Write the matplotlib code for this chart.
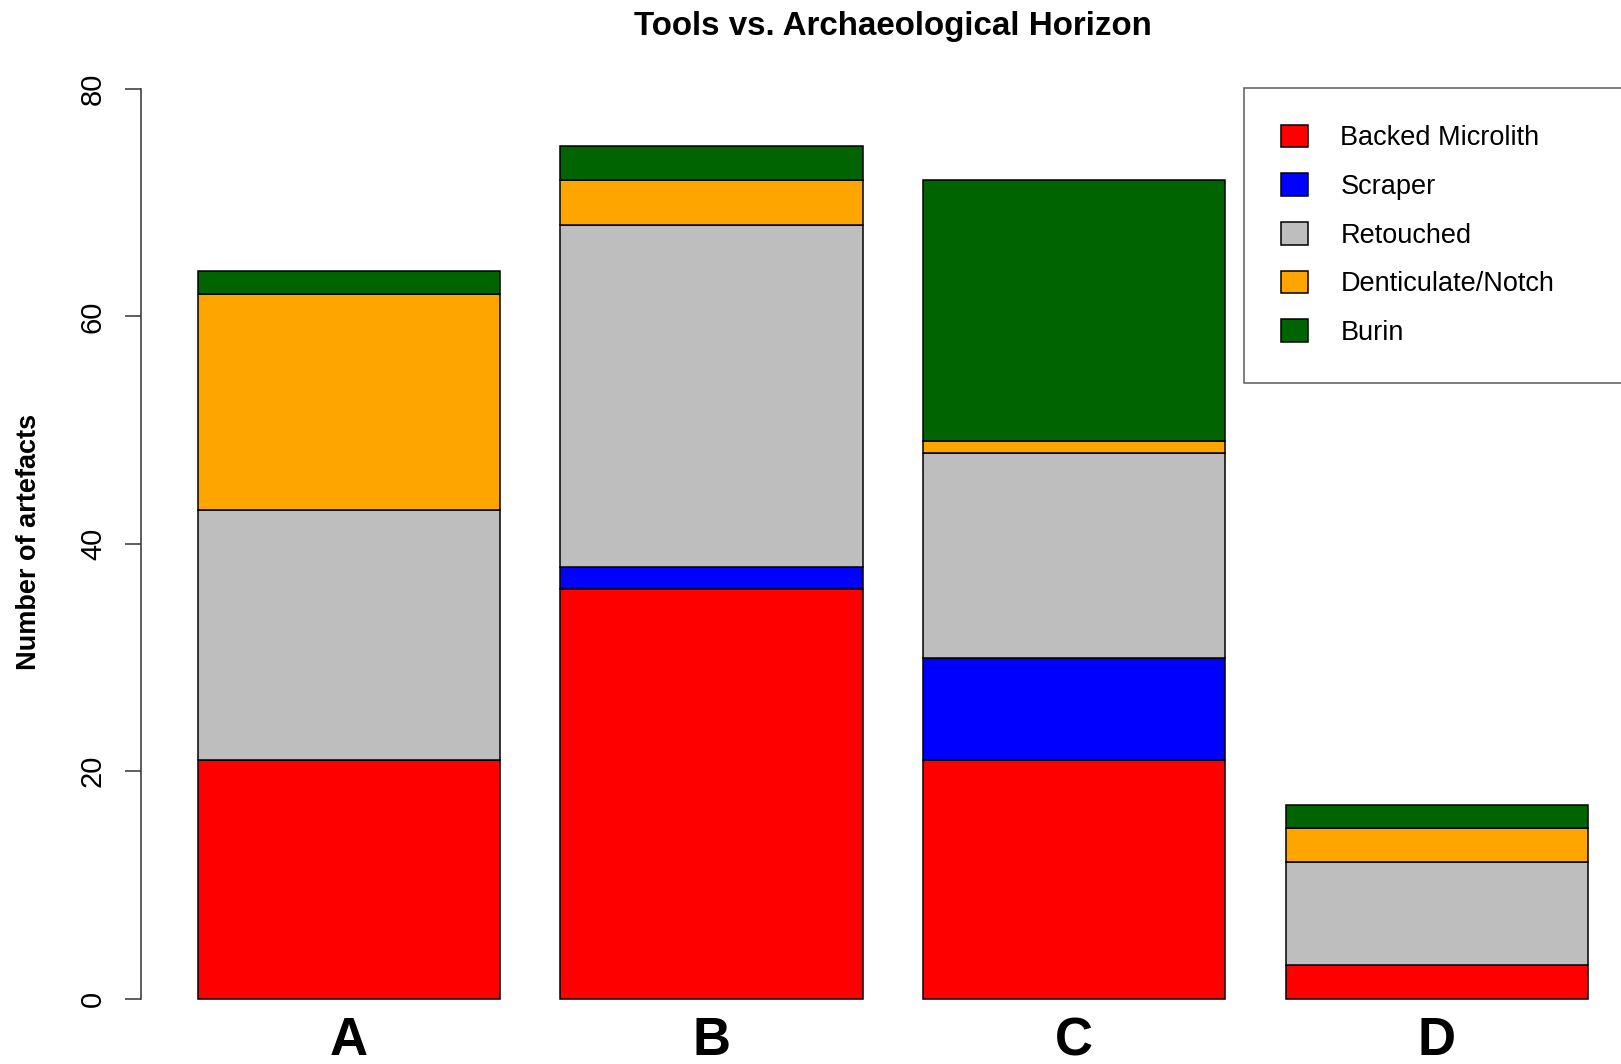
# stacked barplot of tool types per archaeological horizon (R barplot look)
import matplotlib as mpl
import matplotlib.pyplot as plt
import numpy as np

mpl.rcParams['font.family'] = ['Liberation Sans', 'DejaVu Sans']

horizons = ['A', 'B', 'C', 'D']
tool_types = ['Backed Microlith', 'Scraper', 'Retouched', 'Denticulate/Notch', 'Burin']
backed = [21, 36, 21, 3]
scraper = [0, 2, 9, 0]
retouched = [22, 30, 18, 9]
denticulate = [19, 4, 1, 3]
burin = [2, 3, 23, 2]
colours = ['#FF0000', '#0000FF', '#BEBEBE', '#FFA500', '#006400']

W, H = 1621, 1064
fig = plt.figure(figsize=(W / 100, H / 100), dpi=100)

# axes box in pixels (R plot region)
left_px, right_px = 141, 1621
top_px, bot_px = 52.5, 1035.1
ax = fig.add_axes([left_px / W, 1 - bot_px / H, (right_px - left_px) / W, (bot_px - top_px) / H])

x = np.array([0.7, 1.9, 3.1, 4.3])
bottom = np.zeros(4)
for name, vals, col in zip(tool_types, [backed, scraper, retouched, denticulate, burin], colours):
    vals = np.array(vals, dtype=float)
    ax.bar(x, vals, width=1.0, bottom=bottom, color=col, edgecolor='black',
           linewidth=1.1, label=name)
    bottom += vals

ax.set_xlim(0.013, 0.013 + (right_px - left_px) / 302.3)
ax.set_ylim(-3.2, 83.2)

for s in ['top', 'right', 'bottom']:
    ax.spines[s].set_visible(False)
ax.spines['left'].set_bounds(0, 80)
ax.spines['left'].set_color('#333333')
ax.spines['left'].set_linewidth(1.1)

ax.set_yticks([0, 20, 40, 60, 80])
ax.tick_params(axis='y', length=11.5, width=1.1, color='#333333', pad=13, labelsize=21)
for lab in ax.get_yticklabels():
    lab.set_rotation(90)
    lab.set_va('center')

# group names sit inside the lower margin of the plot region
ax.set_xticks([])
for xi, name in zip(x, horizons):
    ax.text(xi, -4.95, name, ha='center', va='baseline', fontsize=38, fontweight='bold')

fig.text(893 / W, 1 - 26 / H, 'Tools vs. Archaeological Horizon', ha='center', va='center',
         fontsize=23.9, fontweight='bold')
fig.text(29 / W, 1 - 542 / H, 'Number of artefacts', ha='center', va='center',
         rotation=90, fontsize=19.5, fontweight='bold')

# legend box: top-left at (1244, 88) px, runs past the right edge
lx0, ly0 = 1244 / W, 1 - 380 / H
leg = fig.legend(loc='upper left', bbox_to_anchor=(lx0, ly0, 500 / W, (380 - 88) / H),
                 bbox_transform=fig.transFigure, mode='expand', borderaxespad=0,
                 fontsize=19.5, frameon=True, fancybox=False, handlelength=1.03,
                 handleheight=0.92, handletextpad=1.18, labelspacing=0.81, borderpad=1.35)
leg.get_frame().set_edgecolor('#333333')
leg.get_frame().set_linewidth(1.1)

fig.savefig('out.png', dpi=100)
